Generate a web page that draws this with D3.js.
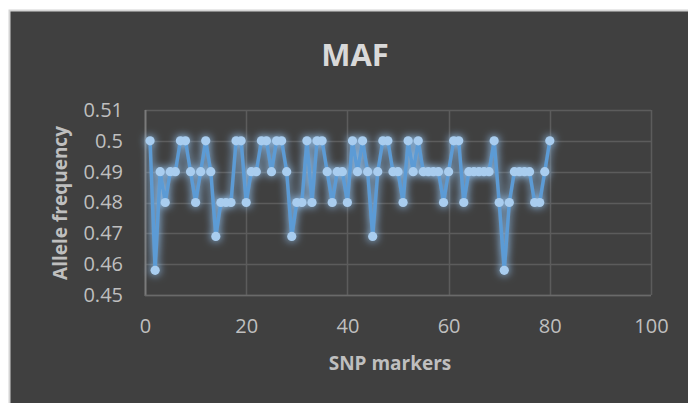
<!DOCTYPE html>
<html>
<head>
<meta charset="utf-8">
<script src="https://cdn.jsdelivr.net/npm/d3@7"></script>
<style>
  html, body { margin: 0; padding: 0; background: #ffffff; }
  svg { display: block; }
  text { font-family: "Open Sans", "DejaVu Sans", sans-serif; }
</style>
</head>
<body>
<svg id="chart" width="688" height="403"></svg>
<script>
// Minor allele frequency for each SNP marker (marker number = position + 1)
const markers = d3.range(1, 81);
const maf = [
  0.50, 0.458, 0.49, 0.48, 0.49, 0.49, 0.50, 0.50, 0.49, 0.48,
  0.49, 0.50, 0.49, 0.469, 0.48, 0.48, 0.48, 0.50, 0.50, 0.48,
  0.49, 0.49, 0.50, 0.50, 0.49, 0.50, 0.50, 0.49, 0.469, 0.48,
  0.48, 0.50, 0.48, 0.50, 0.50, 0.49, 0.48, 0.49, 0.49, 0.48,
  0.50, 0.49, 0.50, 0.49, 0.469, 0.49, 0.50, 0.50, 0.49, 0.49,
  0.48, 0.50, 0.49, 0.50, 0.49, 0.49, 0.49, 0.49, 0.48, 0.49,
  0.50, 0.50, 0.48, 0.49, 0.49, 0.49, 0.49, 0.49, 0.50, 0.48,
  0.458, 0.48, 0.49, 0.49, 0.49, 0.49, 0.48, 0.48, 0.49, 0.50
];
const xTicks = [0, 20, 40, 60, 80, 100];
const yTicks = [0.45, 0.46, 0.47, 0.48, 0.49, 0.50, 0.51];
const yTickLabels = ["0.45", "0.46", "0.47", "0.48", "0.49", "0.5", "0.51"];

const svg = d3.select("#chart");

// chart area panel
svg.append("rect")
  .attr("x", 9.5).attr("y", 10.5)
  .attr("width", 700).attr("height", 420)
  .attr("fill", "#404040")
  .attr("stroke", "#d4d4d4").attr("stroke-width", 2);

const plot = { left: 145, right: 651, top: 110, bottom: 295 };

const x = d3.scaleLinear().domain([0, 100]).range([plot.left, plot.right]);
const y = d3.scaleLinear().domain([0.45, 0.51]).range([plot.bottom, plot.top]);

// glow filter for the series
const defs = svg.append("defs");
const glow = defs.append("filter").attr("id", "glow")
  .attr("x", "-10%").attr("y", "-25%").attr("width", "120%").attr("height", "150%");
glow.append("feGaussianBlur").attr("in", "SourceAlpha").attr("stdDeviation", 4).attr("result", "blur");
glow.append("feColorMatrix").attr("in", "blur").attr("type", "matrix")
  .attr("values", "0 0 0 0 0.30  0 0 0 0 0.56  0 0 0 0 0.90  0 0 0 1.1 0")
  .attr("result", "halo");
const merge = glow.append("feMerge");
merge.append("feMergeNode").attr("in", "halo");
merge.append("feMergeNode").attr("in", "SourceGraphic");

// gridlines
svg.append("g")
  .selectAll("line")
  .data(yTicks)
  .join("line")
  .attr("x1", plot.left).attr("x2", plot.right)
  .attr("y1", d => Math.round(y(d)) + 0.5).attr("y2", d => Math.round(y(d)) + 0.5)
  .attr("stroke", "#5c5c5c").attr("stroke-width", 1.5);

svg.append("g")
  .selectAll("line")
  .data(xTicks.slice(1))
  .join("line")
  .attr("x1", d => Math.round(x(d)) + 0.5).attr("x2", d => Math.round(x(d)) + 0.5)
  .attr("y1", plot.top).attr("y2", plot.bottom)
  .attr("stroke", "#5c5c5c").attr("stroke-width", 1.5);

// axes lines
svg.append("line")
  .attr("x1", plot.left + 0.5).attr("x2", plot.left + 0.5)
  .attr("y1", plot.top).attr("y2", plot.bottom + 1)
  .attr("stroke", "#7a7a7a").attr("stroke-width", 2);
svg.append("line")
  .attr("x1", plot.left).attr("x2", plot.right)
  .attr("y1", plot.bottom + 0.5).attr("y2", plot.bottom + 0.5)
  .attr("stroke", "#6a6a6a").attr("stroke-width", 1.5);

// tick labels via d3 axes
const xAxis = d3.axisBottom(x).tickValues(xTicks).tickSize(0).tickPadding(24);
const gx = svg.append("g").attr("transform", `translate(0,${plot.bottom})`).call(xAxis);
gx.select(".domain").remove();
gx.selectAll("text")
  .attr("fill", "#bfbfbf")
  .style("font-size", "20px")
  .style("font-family", "'Open Sans', sans-serif");

const yAxis = d3.axisLeft(y).tickValues(yTicks).tickSize(0).tickPadding(22)
  .tickFormat((d, i) => yTickLabels[i]);
const gy = svg.append("g").attr("transform", `translate(${plot.left},0)`).call(yAxis);
gy.select(".domain").remove();
gy.selectAll("text")
  .attr("fill", "#bfbfbf")
  .style("font-size", "20px")
  .style("font-family", "'Open Sans', sans-serif");

// series
const series = svg.append("g").attr("filter", "url(#glow)");
const line = d3.line()
  .x((d, i) => x(markers[i]))
  .y(d => y(d));
series.append("path")
  .datum(maf)
  .attr("d", line)
  .attr("fill", "none")
  .attr("stroke", "#5b9bd5")
  .attr("stroke-width", 3.5)
  .attr("stroke-linejoin", "round");
series.selectAll("circle")
  .data(maf)
  .join("circle")
  .attr("cx", (d, i) => x(markers[i]))
  .attr("cy", d => y(d))
  .attr("r", 4.6)
  .attr("fill", "#a9cdef");

// titles
svg.append("text")
  .attr("x", 355).attr("y", 66)
  .attr("text-anchor", "middle")
  .attr("fill", "#d9d9d9")
  .style("font-size", "31px").style("font-weight", "bold")
  .text("MAF");

svg.append("text")
  .attr("x", 390).attr("y", 370)
  .attr("text-anchor", "middle")
  .attr("fill", "#bfbfbf")
  .style("font-size", "19px").style("font-weight", "bold")
  .text("SNP markers");

svg.append("text")
  .attr("transform", "translate(67,203) rotate(-90)")
  .attr("text-anchor", "middle")
  .attr("fill", "#bfbfbf")
  .style("font-size", "19px").style("font-weight", "bold")
  .text("Allele frequency");
</script>
</body>
</html>
